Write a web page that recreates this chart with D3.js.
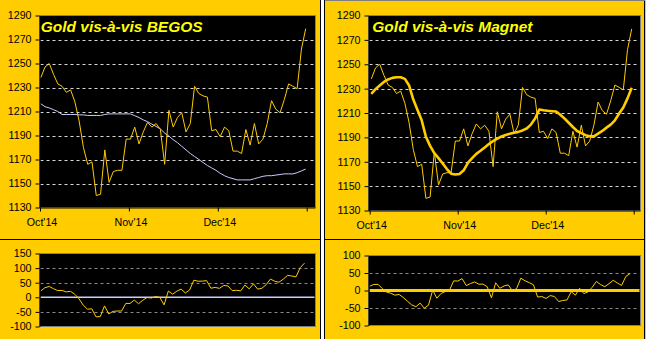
<!DOCTYPE html>
<html>
<head>
<meta charset="utf-8">
<script src="https://cdn.jsdelivr.net/npm/d3@7"></script>
<style>
  html, body { margin: 0; padding: 0; background: #FFCC00; }
  svg { display: block; }
  text { font-family: Arial, "Liberation Sans", sans-serif; }
</style>
</head>
<body>
<svg id="chart" width="646" height="339"></svg>
<script>
// ---- data: daily gold settles, Oct'14 .. Jan'15 window ----
const monthLabels = ["Oct'14", "Nov'14", "Dec'14", ""];

const gold = [1238, 1247, 1250, 1241, 1233, 1231, 1226, 1228, 1218, 1202,
              1180, 1166, 1168, 1140, 1141, 1178, 1151, 1160, 1161, 1161,
              1187, 1187, 1197, 1183, 1193, 1201, 1197, 1200, 1195, 1166,
              1211, 1197, 1205, 1209, 1193, 1200, 1231, 1225, 1223, 1222,
              1194, 1195, 1189, 1197, 1194, 1177, 1177, 1175, 1195, 1182,
              1200, 1183, 1187, 1200, 1219, 1212, 1209, 1220, 1233, 1231,
              1229, 1262, 1279];

const begos = [1216.5, 1214, 1213, 1211.5, 1210, 1207.5, 1207.5, 1207.5, 1207.5, 1207.2,
               1207.2, 1206.7, 1206.7, 1206.7, 1206.7, 1207.5, 1208, 1208, 1208, 1208,
               1208, 1208, 1206.5, 1205, 1203, 1201.5, 1199.5, 1197.5, 1195.5, 1192,
               1189.5, 1186.5, 1184, 1181, 1178, 1175, 1172.5, 1170, 1167.5, 1165,
               1163, 1161, 1158.5, 1156.5, 1155, 1154, 1153, 1153, 1153, 1153,
               1154, 1155, 1156, 1156.5, 1156.5, 1157, 1157.5, 1158, 1158, 1158,
               1159, 1160.5, 1162];

const magnet = [1225.7, 1229.5, 1232.5, 1235.5, 1237.5, 1238.8, 1239.3, 1239.3, 1238, 1232.6,
                1221, 1212.5, 1204, 1190.5, 1183, 1177, 1173, 1168.5, 1164, 1160.2,
                1159.5, 1160, 1163, 1169, 1173, 1176.5, 1179, 1181.7, 1184.5, 1187,
                1189, 1190.7, 1192, 1193, 1193.8, 1194.5, 1195.7, 1197.3, 1200.5, 1205.5,
                1212.8, 1212.2, 1211.8, 1211.5, 1211.2, 1208.5, 1205.5, 1202, 1198.5, 1195.2,
                1193.5, 1191.8, 1191, 1190.8, 1193, 1195.3, 1198, 1200.5, 1204, 1209.5,
                1214.5, 1222, 1230.7];

// spread of gold over BEGOS, in dollars
const begosSpread = [21.5, 33, 37, 29.5, 23, 23.5, 18.5, 20.5, 10.5, -5,
                     -27, -41, -39, -67, -66, -29.5, -57, -48, -47, -47,
                     -21, -21, -9.5, -22, -10, -0.5, -2.5, 2.5, -0.5, -26,
                     21.5, 10.5, 21, 28, 15, 25, 58.5, 55, 55.5, 57,
                     31, 34, 30.5, 40.5, 39, 23, 24, 22, 42, 29,
                     46, 28, 31, 43.5, 62.5, 55, 51.5, 62, 75, 73,
                     70, 101.5, 117];

// spread of gold over its Magnet, in dollars
const magnetSpread = [12.3, 17.5, 17.5, 5.5, -4.5, -7.8, -13.3, -11.3, -20, -30.6,
                      -41, -46.5, -36, -50.5, -42, 1, -22, -8.5, -3, 0.8,
                      27.5, 27, 34, 14, 20, 24.5, 18, 18.3, 10.5, -21,
                      22, 6.3, 13, 16, -0.8, 5.5, 35.3, 27.7, 22.5, 16.5,
                      -18.8, -17.2, -22.8, -14.5, -17.2, -31.5, -28.5, -27, -3.5, -13.2,
                      6.5, -8.8, -4, 9.2, 26, 16.7, 11, 19.5, 29, 21.5,
                      14.5, 40, 48.3];

const priceTicks = [1130, 1150, 1170, 1190, 1210, 1230, 1250, 1270, 1290];
const begosSpreadTicks = [-100, -50, 0, 50, 100, 150];
const magnetSpreadTicks = [-100, -50, 0, 50, 100];

// ---- styling ----
const GOLD = "#FFCC00";
const TITLE = "#FFFF00";
const LAVENDER = "#CCCCFF";
const FONT = "10.67px";

const svg = d3.select("#chart");

// panel frames
svg.append("rect").attr("x", 0).attr("y", 0).attr("width", 646).attr("height", 339).attr("fill", GOLD);
svg.append("rect").attr("x", 321).attr("y", 0).attr("width", 3).attr("height", 339).attr("fill", "#FFFFFF");
svg.append("line").attr("x1", 320.5).attr("x2", 320.5).attr("y1", 0).attr("y2", 339).attr("stroke", "#000");
svg.append("line").attr("x1", 324.5).attr("x2", 324.5).attr("y1", 0).attr("y2", 339).attr("stroke", "#000");
svg.append("line").attr("x1", 644.5).attr("x2", 644.5).attr("y1", 0).attr("y2", 339).attr("stroke", "#000");
svg.append("line").attr("x1", 325).attr("x2", 645).attr("y1", 0.5).attr("y2", 0.5).attr("stroke", "#808080");
svg.append("line").attr("x1", 0).attr("x2", 320).attr("y1", 239.5).attr("y2", 239.5).attr("stroke", "#000");
svg.append("line").attr("x1", 325).attr("x2", 644).attr("y1", 239.5).attr("y2", 239.5).attr("stroke", "#000");

function drawPanel(opt) {
  const g = svg.append("g");
  const { left, right, top, bottom } = opt.box;
  const y = d3.scaleLinear().domain(opt.yDomain).range([bottom, top]);
  const x = d3.scaleLinear().domain([0, opt.series[0].values.length - 1]).range(opt.xRange);

  g.append("rect")
    .attr("x", left).attr("y", top)
    .attr("width", right - left).attr("height", bottom - top)
    .attr("fill", "#000").attr("stroke", "#808080").attr("stroke-width", 1);

  // dashed grid
  g.selectAll(".grid").data(opt.grid).join("line")
    .attr("x1", left + 1).attr("x2", right - 1)
    .attr("y1", d => Math.round(y(d)) + 0.5).attr("y2", d => Math.round(y(d)) + 0.5)
    .attr("stroke", opt.gridColor).attr("stroke-dasharray", "3,3");

  // zero reference
  if (opt.zero) {
    g.append("line")
      .attr("x1", left + 1).attr("x2", right - 1)
      .attr("y1", y(0)).attr("y2", y(0))
      .attr("stroke", opt.zero.color).attr("stroke-width", opt.zero.width);
  }

  // series
  opt.series.forEach(s => {
    g.append("path")
      .datum(s.values)
      .attr("fill", "none")
      .attr("stroke", s.color)
      .attr("stroke-width", s.width)
      .attr("stroke-linejoin", "round")
      .attr("d", d3.line().x((d, i) => x(i)).y(d => y(d)));
  });

  // y axis
  const yAxis = d3.axisLeft(y).tickValues(opt.yTicks).tickSize(4).tickSizeOuter(0).tickPadding(4)
    .tickFormat(d => String(d));
  const ya = g.append("g").attr("transform", `translate(${left},0)`).call(yAxis);
  ya.select(".domain").attr("stroke", "#000");
  ya.selectAll("text").attr("font-size", FONT).attr("fill", "#000").attr("font-family", "Arial, 'Liberation Sans', sans-serif");

  // month axis
  if (opt.monthRange) {
    const m = d3.scaleLinear().domain([0, 3]).range(opt.monthRange);
    const xAxis = d3.axisBottom(m).tickValues([0, 1, 2, 3]).tickSize(4).tickSizeOuter(0).tickPadding(7)
      .tickFormat((d, i) => monthLabels[i]);
    const xa = g.append("g").attr("transform", `translate(0,${bottom})`).call(xAxis);
    xa.select(".domain").attr("stroke", "#000").attr("d", `M${left},0.5H${right}`);
    xa.selectAll("text").attr("font-size", FONT).attr("fill", "#000").attr("dx", "1.5").attr("font-family", "Arial, 'Liberation Sans', sans-serif");
  }

  if (opt.title) {
    g.append("text")
      .attr("x", opt.title.x).attr("y", opt.title.y)
      .attr("fill", TITLE)
      .attr("font-size", "15.5px").attr("font-weight", "bold").attr("font-style", "italic")
      .text(opt.title.text);
  }
}

// Gold vs BEGOS
drawPanel({
  box: { left: 39.5, right: 315.5, top: 15.5, bottom: 207.5 },
  yDomain: [1130, 1290], yTicks: priceTicks,
  grid: [1150, 1170, 1190, 1210, 1230, 1250, 1270], gridColor: "#D8D8D8",
  xRange: [40.7, 305.7], monthRange: [40, 306.7],
  series: [
    { values: begos, color: LAVENDER, width: 1 },
    { values: gold, color: GOLD, width: 1 }
  ],
  title: { text: "Gold vis-à-vis BEGOS", x: 40.7, y: 31.5 }
});

drawPanel({
  box: { left: 39.5, right: 315.5, top: 253.5, bottom: 326.5 },
  yDomain: [-100, 150], yTicks: begosSpreadTicks,
  grid: [100, 50, -50], gridColor: "#8A8A8A",
  xRange: [40.7, 304.5],
  zero: { color: LAVENDER, width: 1.5 },
  series: [{ values: begosSpread, color: GOLD, width: 1 }]
});

// Gold vs Magnet
drawPanel({
  box: { left: 368.5, right: 640.5, top: 15.5, bottom: 210.5 },
  yDomain: [1130, 1290], yTicks: priceTicks,
  grid: [1150, 1170, 1190, 1210, 1230, 1250, 1270], gridColor: "#D8D8D8",
  xRange: [371.3, 631.7], monthRange: [369.7, 633.7],
  series: [
    { values: gold, color: GOLD, width: 1 },
    { values: magnet, color: GOLD, width: 2.6 }
  ],
  title: { text: "Gold vis-à-vis Magnet", x: 372.3, y: 31.5 }
});

drawPanel({
  box: { left: 368.5, right: 640.5, top: 255.5, bottom: 325.5 },
  yDomain: [-100, 100], yTicks: magnetSpreadTicks,
  grid: [50, -50], gridColor: "#8A8A8A",
  xRange: [369.7, 630],
  zero: { color: GOLD, width: 3 },
  series: [{ values: magnetSpread, color: GOLD, width: 1 }]
});
</script>
</body>
</html>
